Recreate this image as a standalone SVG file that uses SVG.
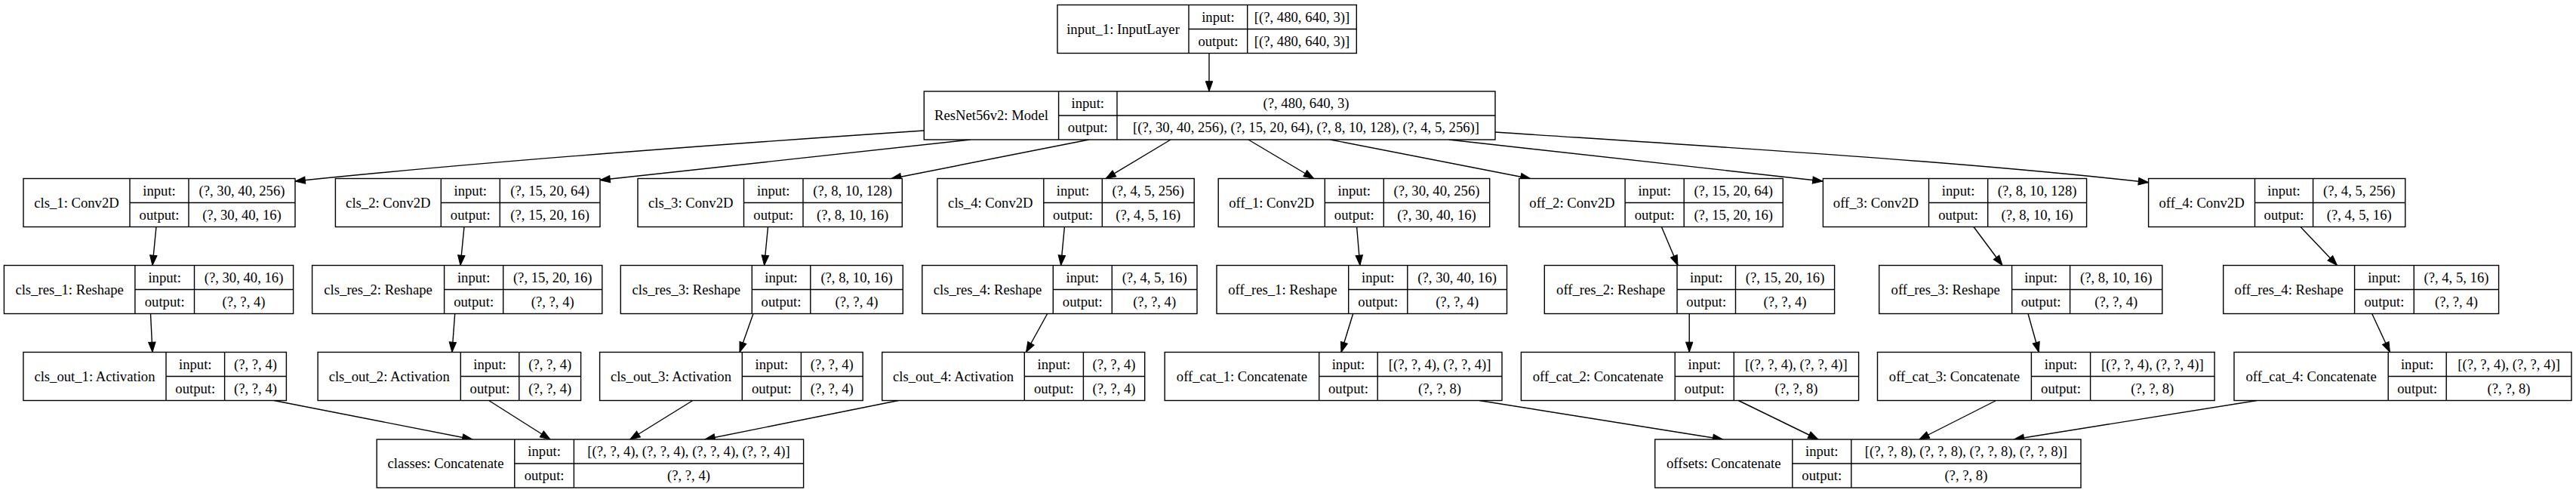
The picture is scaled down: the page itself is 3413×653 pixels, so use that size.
<svg xmlns="http://www.w3.org/2000/svg" width="3413" height="653" viewBox="0 0 3413 653">
<style>
rect.n{fill:#fff;stroke:#000;stroke-width:1.4}
path.d{fill:none;stroke:#000;stroke-width:1.4}
text{font-family:"Liberation Serif","Times New Roman",serif;font-size:18.67px;text-anchor:middle;fill:#000}
#edges path{fill:none;stroke:#000;stroke-width:1.4;marker-end:url(#a)}
</style>
<defs>
<marker id="a" markerUnits="userSpaceOnUse" markerWidth="14" markerHeight="10" refX="13.3" refY="4.7" orient="auto" overflow="visible"><path d="M0,0L13.3,4.7L0,9.4z" fill="#000" stroke="#000" stroke-width="1"/></marker>
</defs>
<rect width="3413" height="653" fill="#fff"/>
<g id="edges">
<path d="M1602,70.5V121"/>
<path d="M1224,173C1000,188 650,213 391,240"/>
<path d="M1285.5,185L795,238.5"/>
<path d="M1442.7,185L1180.6,236.7"/>
<path d="M1551,185L1465,236.7"/>
<path d="M1654,185L1740.7,236.5"/>
<path d="M1762.5,185L2028,236.7"/>
<path d="M1919.6,185L2415,240"/>
<path d="M1981,175C2300,196 2600,214 2846.6,241.7"/>
<path d="M207,300.5L202,351.5"/>
<path d="M615,300.5L610,351.5"/>
<path d="M1017.5,300.5L1012.6,351.5"/>
<path d="M1410.4,300.5L1405.6,351.5"/>
<path d="M1797.6,300.5L1801.9,351.5"/>
<path d="M2201.4,300.5L2223,351.5"/>
<path d="M2615,300.5L2653,351.5"/>
<path d="M3048,300.5L3096.5,351.5"/>
<path d="M199.5,415.5L202,466.5"/>
<path d="M602.7,415.5L598.9,466.5"/>
<path d="M998,415.5L980,466.5"/>
<path d="M1387.7,415.5L1359.5,466.5"/>
<path d="M1792.7,415.5L1777,466.5"/>
<path d="M2238.2,415.5L2238.2,466.5"/>
<path d="M2687,415.5L2701.3,466.5"/>
<path d="M3142.7,415.5L3166.4,466.5"/>
<path d="M363,530.5L626,582"/>
<path d="M647.7,530.5L729,582"/>
<path d="M917.8,530.5L834.7,582"/>
<path d="M1190.4,530.5L934,582"/>
<path d="M1960,530.5L2282.7,582"/>
<path d="M2303.3,530.5L2409,582"/>
<path d="M2644.7,530.5L2542.8,582"/>
<path d="M2990.3,530.5L2668.3,582"/>
</g>
<g id="input_1"><rect class="n" x="1401" y="6.5" width="396.3" height="64"/><path class="d" d="M1575,6.5V70.5M1652.7,6.5V70.5M1575,38.5H1797.3"/><text x="1488" y="44.8">input_1: InputLayer</text><text x="1613.9" y="28.8">input:</text><text x="1613.9" y="60.8">output:</text><text x="1725" y="28.8">[(?, 480, 640, 3)]</text><text x="1725" y="60.8">[(?, 480, 640, 3)]</text></g>
<g id="resnet"><rect class="n" x="1224.3" y="121" width="756.7" height="64"/><path class="d" d="M1402.6,121V185M1480,121V185M1402.6,153H1981"/><text x="1313.5" y="159.3">ResNet56v2: Model</text><text x="1441.3" y="143.3">input:</text><text x="1441.3" y="175.3">output:</text><text x="1730.5" y="143.3">(?, 480, 640, 3)</text><text x="1730.5" y="175.3">[(?, 30, 40, 256), (?, 15, 20, 64), (?, 8, 10, 128), (?, 4, 5, 256)]</text></g>
<g id="cls_1"><rect class="n" x="31" y="236.5" width="360" height="64"/><path class="d" d="M172,236.5V300.5M250,236.5V300.5M172,268.5H391"/><text x="101.5" y="274.8">cls_1: Conv2D</text><text x="211" y="258.8">input:</text><text x="211" y="290.8">output:</text><text x="320.5" y="258.8">(?, 30, 40, 256)</text><text x="320.5" y="290.8">(?, 30, 40, 16)</text></g>
<g id="cls_2"><rect class="n" x="444.4" y="236.5" width="350.6" height="64"/><path class="d" d="M584.3,236.5V300.5M662.3,236.5V300.5M584.3,268.5H795"/><text x="514.35" y="274.8">cls_2: Conv2D</text><text x="623.3" y="258.8">input:</text><text x="623.3" y="290.8">output:</text><text x="728.65" y="258.8">(?, 15, 20, 64)</text><text x="728.65" y="290.8">(?, 15, 20, 16)</text></g>
<g id="cls_3"><rect class="n" x="845" y="236.5" width="350.3" height="64"/><path class="d" d="M985.5,236.5V300.5M1064,236.5V300.5M985.5,268.5H1195.3"/><text x="915.25" y="274.8">cls_3: Conv2D</text><text x="1024.75" y="258.8">input:</text><text x="1024.75" y="290.8">output:</text><text x="1129.65" y="258.8">(?, 8, 10, 128)</text><text x="1129.65" y="290.8">(?, 8, 10, 16)</text></g>
<g id="cls_4"><rect class="n" x="1241.9" y="236.5" width="340.3" height="64"/><path class="d" d="M1382.8,236.5V300.5M1460.3,236.5V300.5M1382.8,268.5H1582.2"/><text x="1312.35" y="274.8">cls_4: Conv2D</text><text x="1421.55" y="258.8">input:</text><text x="1421.55" y="290.8">output:</text><text x="1521.25" y="258.8">(?, 4, 5, 256)</text><text x="1521.25" y="290.8">(?, 4, 5, 16)</text></g>
<g id="off_1"><rect class="n" x="1614.2" y="236.5" width="359.5" height="64"/><path class="d" d="M1755.3,236.5V300.5M1833.3,236.5V300.5M1755.3,268.5H1973.7"/><text x="1684.75" y="274.8">off_1: Conv2D</text><text x="1794.3" y="258.8">input:</text><text x="1794.3" y="290.8">output:</text><text x="1903.5" y="258.8">(?, 30, 40, 256)</text><text x="1903.5" y="290.8">(?, 30, 40, 16)</text></g>
<g id="off_2"><rect class="n" x="2012.7" y="236.5" width="349.6" height="64"/><path class="d" d="M2153.1,236.5V300.5M2231.2,236.5V300.5M2153.1,268.5H2362.3"/><text x="2082.9" y="274.8">off_2: Conv2D</text><text x="2192.15" y="258.8">input:</text><text x="2192.15" y="290.8">output:</text><text x="2296.75" y="258.8">(?, 15, 20, 64)</text><text x="2296.75" y="290.8">(?, 15, 20, 16)</text></g>
<g id="off_3"><rect class="n" x="2415.4" y="236.5" width="349.2" height="64"/><path class="d" d="M2555.5,236.5V300.5M2633.7,236.5V300.5M2555.5,268.5H2764.6"/><text x="2485.45" y="274.8">off_3: Conv2D</text><text x="2594.6" y="258.8">input:</text><text x="2594.6" y="290.8">output:</text><text x="2699.15" y="258.8">(?, 8, 10, 128)</text><text x="2699.15" y="290.8">(?, 8, 10, 16)</text></g>
<g id="off_4"><rect class="n" x="2846.6" y="236.5" width="340.2" height="64"/><path class="d" d="M2987.5,236.5V300.5M3064.6,236.5V300.5M2987.5,268.5H3186.8"/><text x="2917.05" y="274.8">off_4: Conv2D</text><text x="3026.05" y="258.8">input:</text><text x="3026.05" y="290.8">output:</text><text x="3125.7" y="258.8">(?, 4, 5, 256)</text><text x="3125.7" y="290.8">(?, 4, 5, 16)</text></g>
<g id="cls_res_1"><rect class="n" x="5.4" y="351.5" width="383.2" height="64"/><path class="d" d="M178.9,351.5V415.5M257.5,351.5V415.5M178.9,383.5H388.6"/><text x="92.15" y="389.8">cls_res_1: Reshape</text><text x="218.2" y="373.8">input:</text><text x="218.2" y="405.8">output:</text><text x="323.05" y="373.8">(?, 30, 40, 16)</text><text x="323.05" y="405.8">(?, ?, 4)</text></g>
<g id="cls_res_2"><rect class="n" x="413.6" y="351.5" width="384.2" height="64"/><path class="d" d="M588.6,351.5V415.5M666.7,351.5V415.5M588.6,383.5H797.8"/><text x="501.1" y="389.8">cls_res_2: Reshape</text><text x="627.65" y="373.8">input:</text><text x="627.65" y="405.8">output:</text><text x="732.25" y="373.8">(?, 15, 20, 16)</text><text x="732.25" y="405.8">(?, ?, 4)</text></g>
<g id="cls_res_3"><rect class="n" x="822.3" y="351.5" width="374" height="64"/><path class="d" d="M996.3,351.5V415.5M1073.8,351.5V415.5M996.3,383.5H1196.3"/><text x="909.3" y="389.8">cls_res_3: Reshape</text><text x="1035.05" y="373.8">input:</text><text x="1035.05" y="405.8">output:</text><text x="1135.05" y="373.8">(?, 8, 10, 16)</text><text x="1135.05" y="405.8">(?, ?, 4)</text></g>
<g id="cls_res_4"><rect class="n" x="1221.8" y="351.5" width="364.2" height="64"/><path class="d" d="M1395.3,351.5V415.5M1473.3,351.5V415.5M1395.3,383.5H1586"/><text x="1308.55" y="389.8">cls_res_4: Reshape</text><text x="1434.3" y="373.8">input:</text><text x="1434.3" y="405.8">output:</text><text x="1529.65" y="373.8">(?, 4, 5, 16)</text><text x="1529.65" y="405.8">(?, ?, 4)</text></g>
<g id="off_res_1"><rect class="n" x="1612" y="351.5" width="384.5" height="64"/><path class="d" d="M1786.7,351.5V415.5M1864.8,351.5V415.5M1786.7,383.5H1996.5"/><text x="1699.35" y="389.8">off_res_1: Reshape</text><text x="1825.75" y="373.8">input:</text><text x="1825.75" y="405.8">output:</text><text x="1930.65" y="373.8">(?, 30, 40, 16)</text><text x="1930.65" y="405.8">(?, ?, 4)</text></g>
<g id="off_res_2"><rect class="n" x="2046.3" y="351.5" width="384.3" height="64"/><path class="d" d="M2222,351.5V415.5M2299.5,351.5V415.5M2222,383.5H2430.6"/><text x="2134.15" y="389.8">off_res_2: Reshape</text><text x="2260.75" y="373.8">input:</text><text x="2260.75" y="405.8">output:</text><text x="2365.05" y="373.8">(?, 15, 20, 16)</text><text x="2365.05" y="405.8">(?, ?, 4)</text></g>
<g id="off_res_3"><rect class="n" x="2489.7" y="351.5" width="375.1" height="64"/><path class="d" d="M2665.6,351.5V415.5M2742.6,351.5V415.5M2665.6,383.5H2864.8"/><text x="2577.65" y="389.8">off_res_3: Reshape</text><text x="2704.1" y="373.8">input:</text><text x="2704.1" y="405.8">output:</text><text x="2803.7" y="373.8">(?, 8, 10, 16)</text><text x="2803.7" y="405.8">(?, ?, 4)</text></g>
<g id="off_res_4"><rect class="n" x="2945.7" y="351.5" width="364.9" height="64"/><path class="d" d="M3119.6,351.5V415.5M3198.3,351.5V415.5M3119.6,383.5H3310.6"/><text x="3032.65" y="389.8">off_res_4: Reshape</text><text x="3158.95" y="373.8">input:</text><text x="3158.95" y="405.8">output:</text><text x="3254.45" y="373.8">(?, 4, 5, 16)</text><text x="3254.45" y="405.8">(?, ?, 4)</text></g>
<g id="cls_out_1"><rect class="n" x="30.9" y="466.5" width="348.5" height="64"/><path class="d" d="M220,466.5V530.5M297.6,466.5V530.5M220,498.5H379.4"/><text x="125.45" y="504.8">cls_out_1: Activation</text><text x="258.8" y="488.8">input:</text><text x="258.8" y="520.8">output:</text><text x="338.5" y="488.8">(?, ?, 4)</text><text x="338.5" y="520.8">(?, ?, 4)</text></g>
<g id="cls_out_2"><rect class="n" x="421.1" y="466.5" width="348.5" height="64"/><path class="d" d="M610.3,466.5V530.5M687.8,466.5V530.5M610.3,498.5H769.6"/><text x="515.7" y="504.8">cls_out_2: Activation</text><text x="649.05" y="488.8">input:</text><text x="649.05" y="520.8">output:</text><text x="728.7" y="488.8">(?, ?, 4)</text><text x="728.7" y="520.8">(?, ?, 4)</text></g>
<g id="cls_out_3"><rect class="n" x="794.6" y="466.5" width="348.6" height="64"/><path class="d" d="M983.3,466.5V530.5M1061.4,466.5V530.5M983.3,498.5H1143.2"/><text x="888.95" y="504.8">cls_out_3: Activation</text><text x="1022.35" y="488.8">input:</text><text x="1022.35" y="520.8">output:</text><text x="1102.3" y="488.8">(?, ?, 4)</text><text x="1102.3" y="520.8">(?, ?, 4)</text></g>
<g id="cls_out_4"><rect class="n" x="1168.7" y="466.5" width="348" height="64"/><path class="d" d="M1357.3,466.5V530.5M1435.4,466.5V530.5M1357.3,498.5H1516.7"/><text x="1263" y="504.8">cls_out_4: Activation</text><text x="1396.35" y="488.8">input:</text><text x="1396.35" y="520.8">output:</text><text x="1476.05" y="488.8">(?, ?, 4)</text><text x="1476.05" y="520.8">(?, ?, 4)</text></g>
<g id="off_cat_1"><rect class="n" x="1543.2" y="466.5" width="446.8" height="64"/><path class="d" d="M1747.7,466.5V530.5M1825.2,466.5V530.5M1747.7,498.5H1990"/><text x="1645.45" y="504.8">off_cat_1: Concatenate</text><text x="1786.45" y="488.8">input:</text><text x="1786.45" y="520.8">output:</text><text x="1907.6" y="488.8">[(?, ?, 4), (?, ?, 4)]</text><text x="1907.6" y="520.8">(?, ?, 8)</text></g>
<g id="off_cat_2"><rect class="n" x="2015.4" y="466.5" width="447.2" height="64"/><path class="d" d="M2219.2,466.5V530.5M2297.3,466.5V530.5M2219.2,498.5H2462.6"/><text x="2117.3" y="504.8">off_cat_2: Concatenate</text><text x="2258.25" y="488.8">input:</text><text x="2258.25" y="520.8">output:</text><text x="2379.95" y="488.8">[(?, ?, 4), (?, ?, 4)]</text><text x="2379.95" y="520.8">(?, ?, 8)</text></g>
<g id="off_cat_3"><rect class="n" x="2487.5" y="466.5" width="446.6" height="64"/><path class="d" d="M2691.4,466.5V530.5M2769.6,466.5V530.5M2691.4,498.5H2934.1"/><text x="2589.45" y="504.8">off_cat_3: Concatenate</text><text x="2730.5" y="488.8">input:</text><text x="2730.5" y="520.8">output:</text><text x="2851.85" y="488.8">[(?, ?, 4), (?, ?, 4)]</text><text x="2851.85" y="520.8">(?, ?, 8)</text></g>
<g id="off_cat_4"><rect class="n" x="2960" y="466.5" width="447" height="64"/><path class="d" d="M3164.2,466.5V530.5M3241.2,466.5V530.5M3164.2,498.5H3407"/><text x="3062.1" y="504.8">off_cat_4: Concatenate</text><text x="3202.7" y="488.8">input:</text><text x="3202.7" y="520.8">output:</text><text x="3324.1" y="488.8">[(?, ?, 4), (?, ?, 4)]</text><text x="3324.1" y="520.8">(?, ?, 8)</text></g>
<g id="classes"><rect class="n" x="499.2" y="582" width="565.4" height="64"/><path class="d" d="M681.8,582V646M760.4,582V646M681.8,614H1064.6"/><text x="590.5" y="620.3">classes: Concatenate</text><text x="721.1" y="604.3">input:</text><text x="721.1" y="636.3">output:</text><text x="912.5" y="604.3">[(?, ?, 4), (?, ?, 4), (?, ?, 4), (?, ?, 4)]</text><text x="912.5" y="636.3">(?, ?, 4)</text></g>
<g id="offsets"><rect class="n" x="2192.7" y="582" width="564.3" height="64"/><path class="d" d="M2374.8,582V646M2452.8,582V646M2374.8,614H2757"/><text x="2283.75" y="620.3">offsets: Concatenate</text><text x="2413.8" y="604.3">input:</text><text x="2413.8" y="636.3">output:</text><text x="2604.9" y="604.3">[(?, ?, 8), (?, ?, 8), (?, ?, 8), (?, ?, 8)]</text><text x="2604.9" y="636.3">(?, ?, 8)</text></g>
</svg>
